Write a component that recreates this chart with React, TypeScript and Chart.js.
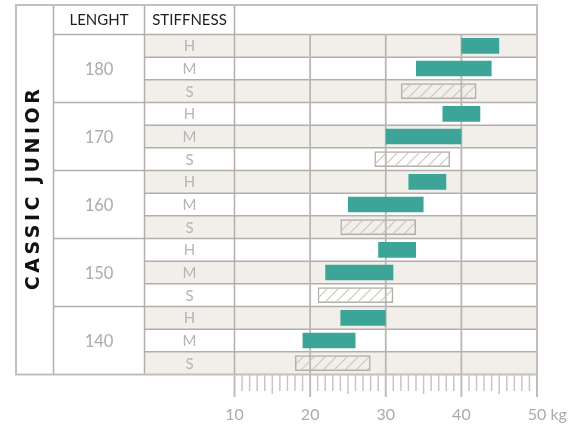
import React, { useEffect, useRef } from 'react';
import { Chart, registerables } from 'chart.js';

Chart.register(...registerables);

const title = 'CASSIC JUNIOR';
const headerLength = 'LENGHT';
const headerStiffness = 'STIFFNESS';
const lengths = ['180', '170', '160', '150', '140'];
const stiffness = ['H', 'M', 'S'];
const hardMin = [40, 37.5, 33, 29, 24];
const hardMax = [45, 42.5, 38, 34, 30];
const mediumMin = [34, 30, 25, 22, 19];
const mediumMax = [44, 40, 35, 31, 26];
const softMin = [32, 28.5, 24, 21, 18];
const softMax = [42, 38.5, 34, 31, 28];
const xTicks = [10, 20, 30, 40, 50];
const xUnit = 'kg';

const rowLabels = lengths.flatMap((l) => stiffness.map((s) => `${l} ${s}`));

const TEAL = '#3ca597';
const STRIPE = '#f2efea';
const LINE = '#b2aeaa';
const BORDER = '#c3c0bc';
const GREY_TEXT = '#ababab';

const X0 = 16;
const X1 = 53.5;
const X2 = 144.5;
const TOP = 5;

function makeHatch(): CanvasPattern | string {
  const c = document.createElement('canvas');
  const s = 11;
  c.width = s;
  c.height = s;
  const g = c.getContext('2d');
  if (!g) return '#ddd';
  g.strokeStyle = '#c9c6c1';
  g.lineWidth = 1.2;
  g.beginPath();
  g.moveTo(-1, s + 1);
  g.lineTo(s + 1, -1);
  g.moveTo(-1, 1);
  g.lineTo(1, -1);
  g.moveTo(s - 1, s + 1);
  g.lineTo(s + 1, s - 1);
  g.stroke();
  const p = g.createPattern(c, 'repeat');
  return p || '#ddd';
}

const tablePlugin = {
  id: 'tablePlugin',
  beforeDatasetsDraw(chart: any) {
    const { ctx, chartArea: ca } = chart;
    const x = chart.scales.x;
    const y = chart.scales.y;
    const n = rowLabels.length;
    const rowH = (ca.bottom - ca.top) / n;
    ctx.save();
    // stripes
    for (let i = 0; i < n; i++) {
      const yc = y.getPixelForValue(i);
      if (i % 2 === 0) {
        ctx.fillStyle = STRIPE;
        ctx.fillRect(X2, yc - rowH / 2, ca.right - X2, rowH);
      }
    }
    // horizontal lines
    ctx.strokeStyle = LINE;
    ctx.lineWidth = 1.5;
    for (let i = 0; i < n; i++) {
      const yb = y.getPixelForValue(i) - rowH / 2;
      const startX = i % 3 === 0 ? X1 : X2;
      ctx.beginPath();
      ctx.moveTo(startX, yb);
      ctx.lineTo(ca.right, yb);
      ctx.stroke();
    }
    // vertical column lines
    [X1, X2, ca.left].forEach((vx) => {
      ctx.beginPath();
      ctx.moveTo(vx, TOP);
      ctx.lineTo(vx, ca.bottom);
      ctx.stroke();
    });
    // grid lines
    ctx.strokeStyle = '#bab6b2';
    ctx.lineWidth = 1.8;
    xTicks.slice(1, -1).forEach((v) => {
      const px = x.getPixelForValue(v);
      ctx.beginPath();
      ctx.moveTo(px, ca.top);
      ctx.lineTo(px, ca.bottom);
      ctx.stroke();
    });
    // outer border
    ctx.strokeStyle = BORDER;
    ctx.lineWidth = 2;
    ctx.strokeRect(X0, TOP, ca.right - X0, ca.bottom - TOP);

    // axis ticks below
    for (let v = xTicks[0]; v <= xTicks[xTicks.length - 1]; v++) {
      const px = x.getPixelForValue(v);
      let end = 391;
      let w = 1.5;
      let col = '#c6c6c6';
      if (v % 10 === 0) {
        end = 397;
        w = 2;
        col = '#bdbdbd';
      } else if (v % 5 === 0) {
        end = 394;
      }
      ctx.strokeStyle = col;
      ctx.lineWidth = w;
      ctx.beginPath();
      ctx.moveTo(px, ca.bottom);
      ctx.lineTo(px, end);
      ctx.stroke();
    }

    // tick labels
    ctx.fillStyle = GREY_TEXT;
    ctx.font = '16px Lato';
    ctx.textBaseline = 'middle';
    xTicks.forEach((v, i) => {
      const px = x.getPixelForValue(v);
      ctx.textAlign = 'center';
      ctx.fillText(String(v), px, 415);
      if (i === xTicks.length - 1) {
        const w = ctx.measureText(String(v)).width;
        ctx.textAlign = 'left';
        ctx.fillText(' ' + xUnit, px + w / 2, 415);
      }
    });

    // header text
    ctx.fillStyle = '#1e1e1e';
    ctx.font = '15px Lato';
    ctx.textAlign = 'center';
    const hy = (TOP + ca.top) / 2 + 0.5;
    ctx.fillText(headerLength, (X1 + X2) / 2, hy);
    ctx.fillText(headerStiffness, (X2 + ca.left) / 2, hy);

    // length labels
    ctx.fillStyle = GREY_TEXT;
    ctx.font = '16.5px Lato';
    lengths.forEach((l, g) => {
      const yc = y.getPixelForValue(g * 3 + 1);
      ctx.fillText(l, (X1 + X2) / 2, yc + 1);
    });

    // stiffness labels
    ctx.fillStyle = '#b5b5b5';
    ctx.font = '15px Lato';
    rowLabels.forEach((_, i) => {
      const yc = y.getPixelForValue(i);
      ctx.fillText(stiffness[i % 3], (X2 + ca.left) / 2, yc + 0.5);
    });

    // rotated title
    ctx.save();
    ctx.translate((X0 + X1) / 2 - 1, (TOP + ca.bottom) / 2);
    ctx.rotate(-Math.PI / 2);
    ctx.fillStyle = '#111';
    ctx.font = 'bold 19px "DejaVu Sans"';
    (ctx as any).letterSpacing = '3.5px';
    ctx.textAlign = 'center';
    ctx.fillText(title, 1.75, 0);
    ctx.restore();

    ctx.restore();
  },
};

export default function App() {
  const ref = useRef<HTMLCanvasElement>(null);
  useEffect(() => {
    if (!ref.current) return;
    const hatch = makeHatch();
    const chart = new Chart(ref.current, {
      type: 'bar',
      data: {
        labels: rowLabels,
        datasets: [
          {
            label: 'H',
            data: lengths.map((l, i) => ({ y: `${l} H`, x: [hardMin[i], hardMax[i]] })) as any,
            backgroundColor: TEAL,
            borderWidth: 0,
            grouped: false,
            barPercentage: 0.69,
            categoryPercentage: 1,
          },
          {
            label: 'M',
            data: lengths.map((l, i) => ({ y: `${l} M`, x: [mediumMin[i], mediumMax[i]] })) as any,
            backgroundColor: TEAL,
            borderWidth: 0,
            grouped: false,
            barPercentage: 0.69,
            categoryPercentage: 1,
          },
          {
            label: 'S',
            data: lengths.map((l, i) => ({ y: `${l} S`, x: [softMin[i], softMax[i]] })) as any,
            backgroundColor: hatch as any,
            borderColor: '#b3afab',
            borderWidth: 1.5,
            borderSkipped: false,
            grouped: false,
            barPercentage: 0.69,
            categoryPercentage: 1,
          },
        ],
      },
      options: {
        indexAxis: 'y',
        responsive: false,
        animation: false,
        devicePixelRatio: 1,
        layout: { padding: { left: 234.5, right: 36, top: 34.5, bottom: 52.5 } },
        plugins: { legend: { display: false }, tooltip: { enabled: false } },
        scales: {
          x: { display: false, min: 10, max: 50 },
          y: { display: false, type: 'category' },
        },
      },
      plugins: [tablePlugin],
    });
    return () => chart.destroy();
  }, []);
  return (
    <div style={{ position: 'fixed', left: 0, top: 0, width: 573, height: 427, background: '#fff' }}>
      <canvas ref={ref} width={573} height={427} style={{ display: 'block' }} />
    </div>
  );
}
